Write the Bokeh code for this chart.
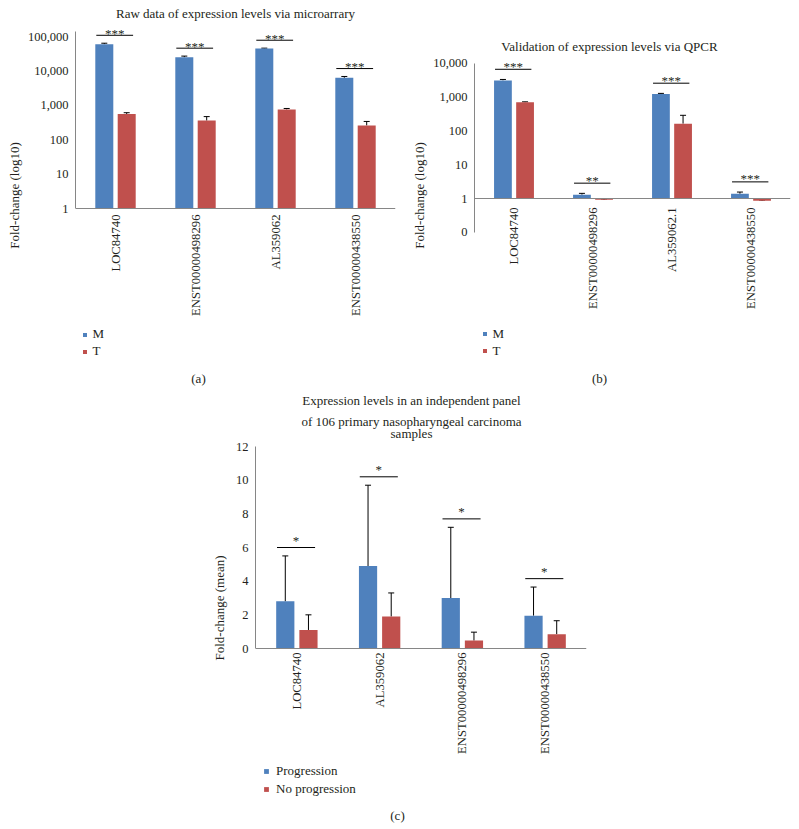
import numpy as np
from bokeh.plotting import figure
from bokeh.models import (Range1d, FixedTicker, NumeralTickFormatter, ColumnDataSource,
                          Whisker, TeeHead, Label, Legend, LegendItem, Span)
from bokeh.layouts import column, row
from bokeh.embed import file_html
from bokeh.resources import INLINE
from bokeh.core.properties import value

FONT = "Liberation Serif"
BLUE = "#4F81BD"
RED = "#C0504D"
AXIS = "#868686"
TXT = "#231F20"

# ---------------- data (a) ----------------
genes_a = ["LOC84740", "ENST00000498296", "AL359062", "ENST00000438550"]
m_a = [60000, 25000, 45000, 6300]
m_a_err = [4000, 2000, 1000, 600]
t_a = [560, 360, 760, 260]
t_a_err = [50, 110, 50, 80]
stars_a = ["***", "***", "***", "***"]
ticks_a = [1, 10, 100, 1000, 10000, 100000]
series_a = ["M", "T"]

# ---------------- data (b) ----------------
genes_b = ["LOC84740", "ENST00000498296", "AL359062.1", "ENST00000438550"]
m_b = [3100, 1.3, 1230, 1.38]
m_b_err = [200, 0.12, 50, 0.17]
t_b = [700, 0.92, 163, 0.86]
t_b_err = [20, 0.05, 125, 0.04]
stars_b = ["***", "**", "***", "***"]
ticks_b = [0.1, 1, 10, 100, 1000, 10000]
series_b = ["M", "T"]

# ---------------- data (c) ----------------
genes_c = ["LOC84740", "AL359062", "ENST00000498296", "ENST00000438550"]
prog = [2.8, 4.9, 3.0, 1.95]
prog_err = [2.7, 4.8, 4.2, 1.7]
noprog = [1.1, 1.9, 0.47, 0.85]
noprog_err = [0.9, 1.4, 0.5, 0.8]
stars_c = ["*", "*", "*", "*"]
ticks_c = [0, 2, 4, 6, 8, 10, 12]
series_c = ["Progression", "No progression"]


def style_axes(p, ylabel, ticks, fmt, ylab_standoff, xlab_standoff, bounds):
    p.xgrid.visible = False
    p.ygrid.visible = False
    p.outline_line_color = None
    p.background_fill_color = None
    p.border_fill_color = None
    for ax in (p.xaxis[0], p.yaxis[0]):
        ax.major_tick_line_color = None
        ax.minor_tick_line_color = None
        ax.major_tick_out = 0
        ax.major_tick_in = 0
        ax.minor_tick_out = 0
        ax.minor_tick_in = 0
        ax.major_label_text_font = FONT
        ax.major_label_text_color = TXT
    p.yaxis.axis_line_color = AXIS
    p.xaxis.axis_line_color = None
    p.yaxis.bounds = bounds
    p.yaxis.major_label_text_font_size = "12.5px"
    p.xaxis.major_label_text_font_size = "12.7px"
    p.yaxis.ticker = FixedTicker(ticks=ticks, minor_ticks=[])
    if fmt:
        p.yaxis.formatter = NumeralTickFormatter(format=fmt)
    p.yaxis.major_label_standoff = 7
    p.yaxis.axis_label = ylabel
    p.yaxis.axis_label_text_font = FONT
    p.yaxis.axis_label_text_font_style = "normal"
    p.yaxis.axis_label_text_font_size = "13px"
    p.yaxis.axis_label_text_color = TXT
    p.yaxis.axis_label_standoff = ylab_standoff
    p.xaxis.major_label_orientation = np.pi / 2
    p.xaxis.major_label_standoff = xlab_standoff


def add_bars(p, genes, s1, e1, s2, e2, base, width):
    xs = np.arange(len(genes)) + 0.5
    p.xaxis.ticker = FixedTicker(ticks=list(xs), minor_ticks=[])
    p.xaxis.major_label_overrides = {float(x): g for x, g in zip(xs, genes)}
    # category (x) axis line drawn at the bars' base value
    p.add_layout(Span(location=base, dimension="width", line_color=AXIS, line_width=1))
    r1 = p.vbar(x=xs - 0.14, top=s1, bottom=base, width=width, fill_color=BLUE,
                line_color=None)
    r2 = p.vbar(x=xs + 0.14, top=s2, bottom=base, width=width, fill_color=RED,
                line_color=None)
    for dx, s, e in ((-0.14, s1, e1), (0.14, s2, e2)):
        src = ColumnDataSource(dict(x=xs + dx, lo=np.array(s, float),
                                    hi=np.array(s, float) + np.array(e, float)))
        w = Whisker(source=src, base="x", lower="lo", upper="hi", dimension="height",
                    line_color="black", line_width=1,
                    upper_head=TeeHead(size=6, line_color="black", line_width=1),
                    lower_head=None)
        p.add_layout(w)
    return xs, r1, r2


def add_brackets(p, xs, tops, stars, yoff, size):
    p.segment(x0=xs - 0.24, x1=xs + 0.22, y0=tops, y1=tops, line_color="black",
              line_width=1)
    p.text(x=xs - 0.01, y=tops, text=stars, text_align="center",
           text_baseline="alphabetic", y_offset=yoff, text_font=value(FONT),
           text_font_size=size, text_color=TXT)


def add_text(p, text, x, y, size="13px"):
    p.add_layout(Label(x=x, y=y, text=text, text_align="center",
                       text_baseline="middle", text_font=FONT,
                       text_font_size=size, text_color=TXT))


def add_legend(p, r1, r2, names, loc, glyph, spacing, standoff, size):
    lg = Legend(items=[LegendItem(label=names[0], renderers=[r1]),
                       LegendItem(label=names[1], renderers=[r2])],
                location=loc, orientation="vertical", glyph_width=glyph,
                glyph_height=glyph, label_height=13, spacing=spacing, padding=0,
                margin=0, border_line_color=None, background_fill_alpha=0,
                label_text_font=FONT, label_text_font_size=size,
                label_text_color=TXT, label_standoff=standoff)
    p.add_layout(lg)


ROW_TOP, ROW_BOT = 0, 390     # page y of the top row figures (frames fill the height)

# ---------------- panel (a) ----------------
# frame: page x 75..395 (80 px per gene); value 1 at page y 208; 34.39 px/decade
DEC_A = 34.39
ya = lambda py: 10 ** ((208 - py) / DEC_A)
xa_ = lambda px: (px - 75) / 80.0
pa = figure(width=400, height=ROW_BOT - ROW_TOP, y_axis_type="log",
            x_range=Range1d(0, 4), y_range=Range1d(ya(ROW_BOT), ya(ROW_TOP)),
            output_backend="svg", toolbar_location=None, min_border_left=75,
            min_border_right=5, min_border_top=0, min_border_bottom=0)
style_axes(pa, "Fold-change (log10)", ticks_a, "0,0", 3, 214 - ROW_BOT, (1, ya(31)))
xa, ra1, ra2 = add_bars(pa, genes_a, m_a, m_a_err, t_a, t_a_err, 1, 0.225)
br_a = (np.array(m_a) + np.array(m_a_err)) * 1.7
add_brackets(pa, xa, br_a, stars_a, -2, "13px")
add_text(pa, "Raw data of expression levels via microarrary", xa_(235), ya(13))
add_legend(pa, ra1, ra2, series_a, (6.5, ROW_BOT - 359), 5, 1, 6, "13px")
add_text(pa, "(a)", xa_(198), ya(378))

# ---------------- panel (b) ----------------
# frame: page x 474..790 (79 px per gene); value 1 at page y 198; 33.83 px/decade
DEC_B = 33.83
yb = lambda py: 10 ** ((198 - py) / DEC_B)
xb_ = lambda px: (px - 474) / 79.0
pb = figure(width=399, height=ROW_BOT - ROW_TOP, y_axis_type="log",
            x_range=Range1d(0, 4), y_range=Range1d(yb(ROW_BOT), yb(ROW_TOP)),
            output_backend="svg", toolbar_location=None, min_border_left=74,
            min_border_right=9, min_border_top=0, min_border_bottom=0)
style_axes(pb, "Fold-change (log10)", ticks_b, "0,0", 3, 207 - ROW_BOT, (0.1, 10000))
xb, rb1, rb2 = add_bars(pb, genes_b, m_b, m_b_err, t_b, t_b_err, 1, 0.225)
br_b = (np.array(m_b) + np.array(m_b_err)) * 2.0
add_brackets(pb, xb, br_b, stars_b, -3, "13px")
add_text(pb, "Validation of expression levels via QPCR", xb_(609), yb(46))
add_legend(pb, rb1, rb2, series_b, (7.5, ROW_BOT - 358.5), 5, 1, 6, "13px")
add_text(pb, "(b)", xb_(599), yb(378))

# ---------------- panel (c) ----------------
# frame: page x 255..586; value 0 at page y 648, 12 at page y 446
C_TOP, C_BOT = 390, 825
PXU_C = 331 / 4.0
PYU_C = 202 / 12.0
yc = lambda py: (648 - py) / PYU_C
xc_ = lambda px: (px - 255) / PXU_C
pc = figure(width=799, height=C_BOT - C_TOP, x_range=Range1d(0, 4),
            y_range=Range1d(yc(C_BOT), yc(C_TOP)), output_backend="svg",
            toolbar_location=None, min_border_left=255, min_border_right=213,
            min_border_top=0, min_border_bottom=0)
style_axes(pc, "Fold-change (mean)", ticks_c, None, 6, 652 - C_BOT, (0, 12))
xc, rc1, rc2 = add_bars(pc, genes_c, prog, prog_err, noprog, noprog_err, 0, 0.22)
br_c = np.array(prog) + np.array(prog_err) + 0.5
add_brackets(pc, xc, br_c, stars_c, -7, "13px")
add_text(pc, "Expression levels in an independent panel", xc_(411), yc(400))
add_text(pc, "of 106 primary nasopharyngeal carcinoma", xc_(411), yc(421))
add_text(pc, "samples", xc_(411), yc(433))
add_legend(pc, rc1, rc2, series_c, (8, C_BOT - 796.5), 6, 2, 7, "13px")
add_text(pc, "(c)", xc_(397), yc(815))

layout = column(row(pa, pb), pc)
open("out.html", "w").write(file_html(layout, INLINE))
